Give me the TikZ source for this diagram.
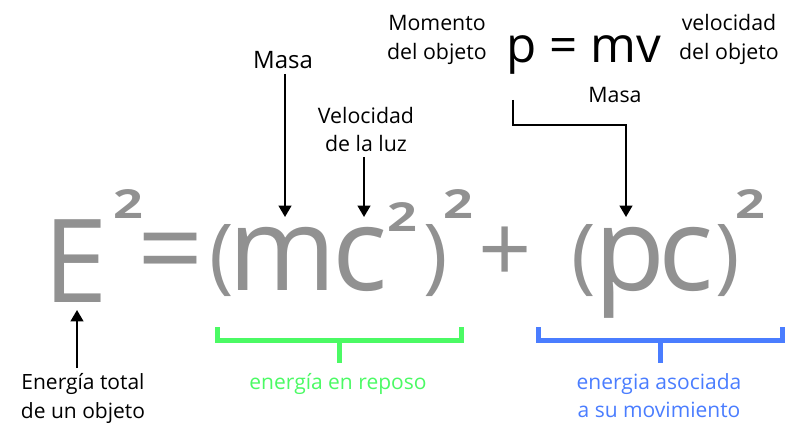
\documentclass[tikz,border=0pt]{standalone}
\usepackage{fontspec}
\setmainfont{Open Sans}
\newfontfamily\supfont[FakeStretch=1.3]{Open Sans}
\usetikzlibrary{arrows.meta}
\definecolor{eqgray}{RGB}{145,145,145}
\definecolor{restgreen}{RGB}{75,250,100}
\definecolor{moveblue}{RGB}{74,125,255}

\begin{document}
\begin{tikzpicture}[x=0.75pt, y=-0.75pt,
    glyph/.style={text=eqgray, inner ysep=0pt, inner xsep=-4pt, font=\fontsize{87}{87}\selectfont},
    sq/.style={text=eqgray, inner sep=0pt, font=\supfont\bfseries\fontsize{30}{30}\selectfont},
    paren/.style={text=eqgray, inner ysep=0pt, inner xsep=-3pt, font=\fontsize{62}{62}\selectfont},
    lbl/.style={align=center, font=\fontsize{16}{21.75}\selectfont},
    arr/.style={line width=1.5pt, -{Triangle[width=9.5pt,length=8.5pt]}},
    brace/.style={line width=3.75pt}]
    \useasboundingbox (0,0) rectangle (800,431);

    % E^2 = (mc^2)^2 + (pc)^2
    \node[glyph, anchor=base] (E) at (75.5,302) {E};
    \node[sq, anchor=base] (sqE) at (128.5,219) {2};
    \node[glyph, inner xsep=-6pt] (eq) at (171,261) {=};
    \node[paren] (lpA) at (222,261) {(};
    \node[glyph, anchor=base] (m) at (282.5,291) {m};
    \node[glyph, anchor=base] (c) at (360,291) {c};
    \node[sq, anchor=base] (sqc) at (402.5,232) {2};
    \node[paren] (rpA) at (435.5,261) {)};
    \node[sq, anchor=base] (sqA) at (458.5,219) {2};
    \node[glyph, font=\fontsize{70}{70}\selectfont] (plus) at (505.5,254.5) {+};
    \node[paren] (lpB) at (583.5,261) {(};
    \node[glyph, anchor=base] (p) at (630,291) {p};
    \node[glyph, anchor=base] (cb) at (686.5,291) {c};
    \node[paren] (rpB) at (728,261) {)};
    \node[sq, anchor=base] (sqB) at (750,219) {2};

    % momentum
    \node[anchor=base, font=\fontsize{37}{37}\selectfont] (pmv) at (584,63) {p = mv};
    \node[lbl, anchor=base] (momento) at (437,60) {Momento\\del objeto};
    \node[lbl, anchor=base] (velobj) at (729,60) {velocidad\\del objeto};
    \node[lbl, anchor=base] (masaR) at (615,103) {Masa};

    % labels above
    \node[lbl, anchor=base, font=\fontsize{18}{18}\selectfont] (masaL) at (283,69) {Masa};
    \node[lbl, anchor=base, font=\fontsize{16}{21}\selectfont] (luz) at (366,152) {Velocidad\\de la luz};

    % labels below
    \node[lbl, anchor=base, font=\fontsize{15.75}{21.75}\selectfont] (total) at (83,418) {Energía total\\de un objeto};
    \node[lbl, anchor=base, font=\fontsize{15.75}{21.75}\selectfont, text=restgreen] (reposo) at (338,389) {energía en reposo};
    \node[lbl, anchor=base, font=\fontsize{15.75}{21}\selectfont, text=moveblue] (movim) at (659,417) {energia asociada\\a su movimiento};

    % arrow tips
    \coordinate (tipM) at (285,217);
    \coordinate (tipC) at (364,217);
    \coordinate (tipP) at (626,217);
    \coordinate (tipE) at (77,310);
    \coordinate (pfoot) at (513,100);

    \draw[arr] (masaL.south -| tipM) -- (tipM);
    \draw[arr] (luz.south -| tipC) -- (tipC);
    \draw[arr] (pfoot) -- ++(0,25) -| (tipP);
    \draw[arr] (total.north -| tipE) -- (tipE);

    % brackets
    \draw[brace, restgreen] (217.5,327) |- (461.5,340.5) -- (461.5,327);
    \draw[brace, restgreen] (339.5,343) -- (339.5,363);
    \draw[brace, moveblue] (538.5,327) |- (782.5,340.5) -- (782.5,327);
    \draw[brace, moveblue] (660.5,343) -- (660.5,363);
\end{tikzpicture}
\end{document}
